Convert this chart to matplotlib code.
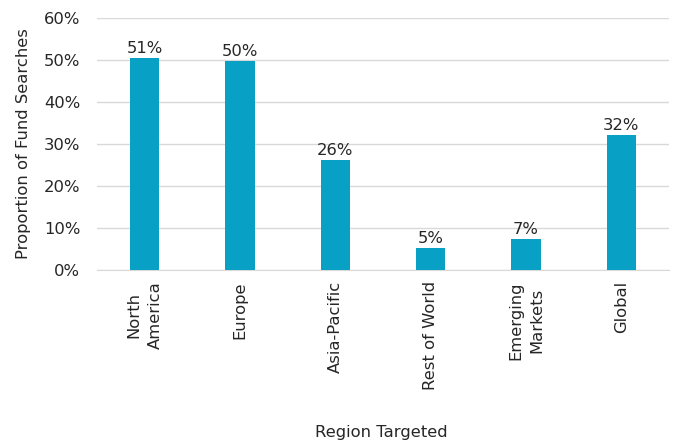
import matplotlib
matplotlib.use("Agg")
import matplotlib.pyplot as plt
from matplotlib.ticker import PercentFormatter

categories = ["North\nAmerica", "Europe", "Asia-Pacific", "Rest of World", "Emerging\nMarkets", "Global"]
values = [0.505, 0.498, 0.262, 0.052, 0.074, 0.321]
labels = ["51%", "50%", "26%", "5%", "7%", "32%"]

plt.rcParams['font.family'] = ['DejaVu Sans']
fs = 11.8
fig = plt.figure(figsize=(6.77, 4.41), dpi=100)
ax = fig.add_axes([97/677, 1 - 270/441, 572/677, 252/441])

x = list(range(len(categories)))
bars = ax.bar(x, values, width=0.31, color="#08A0C4", zorder=3)
for xi, v, lab in zip(x, values, labels):
    ax.text(xi, v + 0.005, lab, ha="center", va="bottom", fontsize=fs, color="#262626")

ax.set_xlim(-0.5, len(categories) - 0.5)
ax.set_ylim(0, 0.6)
ax.set_yticks([0, 0.1, 0.2, 0.3, 0.4, 0.5, 0.6])
ax.yaxis.set_major_formatter(PercentFormatter(1.0, decimals=0))
ax.grid(axis="y", color="#D9D9D9", linewidth=1, zorder=0)
for s in ["top", "right", "left"]:
    ax.spines[s].set_visible(False)
ax.spines["bottom"].set_color("#D9D9D9")
ax.tick_params(axis="both", length=0, labelsize=fs, colors="#262626")
ax.tick_params(axis="y", pad=12)
ax.set_xticks(x)
ax.set_xticklabels(categories, rotation=90, ha="center", va="top", multialignment="center", linespacing=1.5)
ax.tick_params(axis="x", pad=8)
ax.set_ylabel("Proportion of Fund Searches", fontsize=fs, color="#262626", labelpad=9)
fig.text(381/677, 1 - 432/441, "Region Targeted", ha="center", va="center", fontsize=fs, color="#262626")

fig.savefig("out.png", dpi=100)
